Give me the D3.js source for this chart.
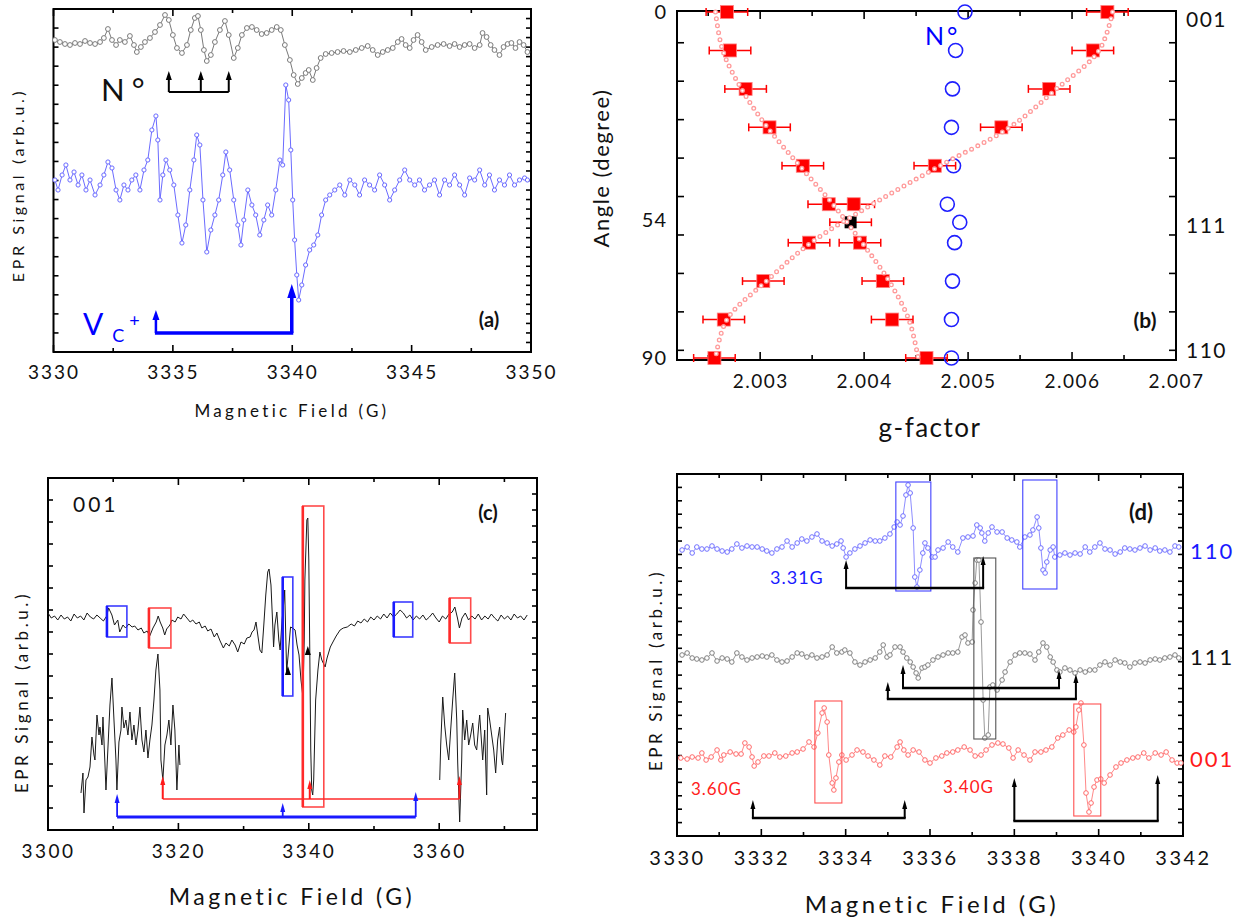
<!DOCTYPE html>
<html><head><meta charset="utf-8">
<script src="https://cdn.jsdelivr.net/npm/d3@7"></script>
<style>body{margin:0;background:#fff}</style>
</head><body>
<script>
// ================= DATA =================
// Panel (a): field (G), signal (arb.u.)
const aNitrogenSpec = [[3330.06,312],[3330.27,310],[3330.48,308],[3330.69,307],[3330.90,309],[3331.11,308],[3331.32,311],[3331.53,309],[3331.74,308],[3331.95,310],[3332.11,314],[3332.28,323],[3332.45,312],[3332.62,307],[3332.78,312],[3332.99,310],[3333.20,316],[3333.37,307],[3333.49,300],[3333.66,305],[3333.83,310],[3334.04,314],[3334.25,320],[3334.46,327],[3334.67,337],[3334.83,332],[3335.00,317],[3335.17,304],[3335.38,299],[3335.59,307],[3335.75,322],[3335.92,334],[3336.05,336],[3336.17,322],[3336.30,302],[3336.42,291],[3336.59,297],[3336.76,310],[3336.97,322],[3337.18,331],[3337.34,317],[3337.55,294],[3337.72,304],[3337.89,317],[3338.10,324],[3338.31,325],[3338.51,322],[3338.72,318],[3338.93,319],[3339.14,322],[3339.35,325],[3339.52,322],[3339.69,307],[3339.90,292],[3340.06,277],[3340.23,268],[3340.40,274],[3340.56,279],[3340.69,282],[3340.86,272],[3341.02,284],[3341.19,294],[3341.40,298],[3341.65,299],[3341.90,300],[3342.15,301],[3342.41,300],[3342.66,302],[3342.91,304],[3343.16,306],[3343.37,302],[3343.58,297],[3343.79,300],[3344.00,302],[3344.21,304],[3344.42,310],[3344.58,313],[3344.75,307],[3344.92,304],[3345.08,312],[3345.25,317],[3345.42,310],[3345.59,302],[3345.84,305],[3346.09,307],[3346.34,308],[3346.59,306],[3346.80,308],[3347.01,305],[3347.22,307],[3347.43,308],[3347.64,304],[3347.85,307],[3347.97,319],[3348.14,315],[3348.31,307],[3348.47,302],[3348.68,297],[3348.85,305],[3349.02,308],[3349.18,309],[3349.35,304],[3349.52,310],[3349.69,307],[3349.85,300]];
const aVcSpec = [[3330.06,172],[3330.19,162],[3330.36,177],[3330.52,187],[3330.69,172],[3330.86,180],[3331.03,167],[3331.19,177],[3331.36,162],[3331.53,172],[3331.74,157],[3331.95,167],[3332.11,177],[3332.28,190],[3332.45,184],[3332.62,162],[3332.78,152],[3332.95,167],[3333.12,162],[3333.28,172],[3333.45,177],[3333.62,162],[3333.79,182],[3333.95,192],[3334.12,222],[3334.29,236],[3334.37,212],[3334.46,152],[3334.58,177],[3334.71,192],[3334.87,182],[3335.04,167],[3335.21,137],[3335.38,109],[3335.54,127],[3335.71,162],[3335.88,192],[3336.00,217],[3336.13,207],[3336.26,152],[3336.42,100],[3336.59,122],[3336.76,137],[3336.92,152],[3337.09,177],[3337.22,200],[3337.38,182],[3337.55,152],[3337.72,127],[3337.85,107],[3337.97,132],[3338.14,162],[3338.31,147],[3338.47,137],[3338.64,117],[3338.81,132],[3338.97,147],[3339.14,137],[3339.31,162],[3339.48,192],[3339.60,187],[3339.73,267],[3339.85,252],[3339.94,202],[3340.02,152],[3340.10,112],[3340.19,77],[3340.27,52],[3340.40,67],[3340.56,87],[3340.73,102],[3340.90,107],[3341.07,117],[3341.23,137],[3341.40,152],[3341.57,157],[3341.78,162],[3341.99,167],[3342.20,157],[3342.41,172],[3342.62,167],[3342.82,157],[3343.03,172],[3343.24,167],[3343.45,162],[3343.66,177],[3343.87,167],[3344.08,152],[3344.29,162],[3344.50,172],[3344.71,182],[3344.92,172],[3345.13,167],[3345.33,172],[3345.54,162],[3345.75,167],[3345.96,172],[3346.17,157],[3346.38,172],[3346.59,167],[3346.80,177],[3347.01,167],[3347.22,157],[3347.43,174],[3347.64,172],[3347.85,182],[3348.06,167],[3348.26,177],[3348.47,162],[3348.68,172],[3348.89,167],[3349.10,177],[3349.31,167],[3349.52,172],[3349.73,174],[3349.85,172]];
const aXTicks = [3330, 3335, 3340, 3345, 3350];
const aXMinor = [3332.5, 3337.5, 3342.5, 3347.5];
const aNitrogenLines = [3334.83, 3336.17, 3337.34];
const aVcLines = [3334.29, 3339.98];

// Panel (b): angle (degree) vs g-factor
const bAngles = [0, 10, 20, 30, 40, 50, 60, 70, 80, 90];
const bBranch1 = [2.00268, 2.00271, 2.00286, 2.00309, 2.00341, 2.00366, 2.00347, 2.00303, 2.00265, 2.00256];
const bBranch2 = [2.00634, 2.00620, 2.00578, 2.00532, 2.00468, 2.00390, 2.00396, 2.00418, 2.00427, 2.00460];
const bError = 0.0002;
const bMagic = [54.7, 2.00387];
const bNAngles = [0, 10, 20, 30, 40, 50, 54.7, 60, 70, 80, 90];
const bNG = [2.00497, 2.00488, 2.00485, 2.00484, 2.00486, 2.00480, 2.00492, 2.00487, 2.00485, 2.00484, 2.00484];
const bFit1 = [[0,2.00257],[10,2.00264],[20,2.00282],[30,2.00307],[40,2.00338],[50,2.00370],[60,2.00398],[70,2.00424],[80,2.00443],[90,2.00452]];
const bFit2 = [[0,2.00639],[10,2.00626],[20,2.00585],[30,2.00540],[40,2.00473],[50,2.00408],[60,2.00349],[70,2.00306],[80,2.00268],[90,2.00257]];
const bXTicks = [2.003, 2.004, 2.005, 2.006, 2.007];
const bXMinor = [2.0025, 2.0035, 2.0045, 2.0055, 2.0065];
const bYTickLabels = [0, 54, 90];
const bYTicks = [8, 18, 28, 38, 48, 58, 68, 78, 88];
const bDirLabels = [["001", 0], ["111", 54], ["110", 90]];

// Panel (c): 001 spectrum and magnified wings
const cSpec001 = [[3300.0,217],[3300.5,212],[3301.0,214],[3301.5,210],[3302.0,215],[3302.5,211],[3303.0,213],[3303.5,209],[3304.0,216],[3304.5,212],[3305.0,214],[3305.5,210],[3306.0,217],[3306.5,213],[3307.0,211],[3307.5,215],[3308.0,212],[3308.5,209],[3309.0,214],[3309.3,222],[3309.8,215],[3310.2,205],[3310.7,210],[3311.0,198],[3311.5,205],[3311.9,202],[3312.4,206],[3312.9,203],[3313.3,204],[3313.8,200],[3314.3,202],[3314.7,197],[3315.2,199],[3315.6,194],[3316.1,202],[3316.6,208],[3316.9,214],[3317.2,208],[3317.6,202],[3317.9,195],[3318.2,201],[3318.7,205],[3319.0,210],[3319.5,208],[3319.9,213],[3320.4,211],[3320.8,216],[3321.3,212],[3321.8,208],[3322.2,210],[3322.7,206],[3323.2,208],[3323.6,202],[3324.1,204],[3324.5,199],[3325.0,201],[3325.5,193],[3325.9,197],[3326.4,189],[3326.9,182],[3327.3,187],[3327.8,184],[3328.2,190],[3328.7,185],[3329.1,178],[3329.6,188],[3330.1,186],[3330.5,192],[3331.0,193],[3331.3,198],[3331.6,200],[3331.9,208],[3332.2,194],[3332.5,180],[3332.8,177],[3333.1,205],[3333.4,235],[3333.7,258],[3333.9,261],[3334.2,245],[3334.5,200],[3334.6,183],[3334.8,205],[3335.1,218],[3335.4,190],[3335.6,180],[3335.9,210],[3336.2,230],[3336.3,240],[3336.6,158],[3336.9,180],[3337.2,203],[3337.5,202],[3337.9,200],[3338.2,185],[3338.5,175],[3338.8,150],[3339.1,133],[3339.3,190],[3339.4,250],[3339.6,290],[3339.7,310],[3339.85,312],[3340.0,270],[3340.15,180],[3340.3,80],[3340.45,40],[3340.6,35],[3340.75,50],[3340.9,90],[3341.05,130],[3341.4,160],[3341.7,178],[3342.0,170],[3342.5,163],[3342.8,172],[3343.3,183],[3343.7,188],[3344.2,194],[3344.8,200],[3345.3,202],[3345.9,203],[3346.5,206],[3347.0,204],[3347.5,209],[3348.0,207],[3348.5,211],[3349.0,208],[3349.5,213],[3350.0,210],[3350.5,214],[3351.0,211],[3351.5,216],[3352.0,212],[3352.5,217],[3353.0,213],[3353.5,216],[3354.0,220],[3354.5,217],[3355.0,212],[3355.5,215],[3356.0,210],[3356.5,214],[3357.0,211],[3357.5,215],[3358.0,210],[3358.5,213],[3359.0,217],[3359.5,212],[3360.0,208],[3360.5,214],[3361.0,211],[3361.5,216],[3362.0,218],[3362.4,223],[3362.8,212],[3363.1,202],[3363.5,212],[3364.0,217],[3364.5,210],[3365.0,214],[3365.5,211],[3366.0,216],[3366.5,210],[3367.0,214],[3367.5,211],[3368.0,216],[3368.5,212],[3369.0,209],[3369.5,215],[3370.0,211],[3370.5,214],[3371.0,210],[3371.5,216],[3372.0,212],[3372.5,214],[3373.0,210],[3373.5,215]];
const cWingLeft = [[3305.06,37],[3305.36,57],[3305.52,17],[3305.82,50],[3306.13,53],[3306.44,63],[3306.74,93],[3307.05,75],[3307.20,70],[3307.51,115],[3307.82,95],[3307.97,103],[3308.28,85],[3308.43,113],[3308.74,65],[3308.89,40],[3309.20,83],[3309.50,125],[3309.81,152],[3310.12,110],[3310.42,70],[3310.57,40],[3310.88,88],[3311.19,100],[3311.34,123],[3311.65,102],[3311.95,110],[3312.26,95],[3312.57,118],[3312.87,90],[3313.18,105],[3313.49,85],[3313.79,100],[3314.10,123],[3314.41,90],[3314.71,78],[3315.02,100],[3315.33,72],[3315.63,90],[3315.94,105],[3316.25,130],[3316.55,160],[3316.86,176],[3317.17,140],[3317.32,70],[3317.62,50],[3317.93,85],[3318.24,95],[3318.54,110],[3318.85,85],[3319.16,125],[3319.46,100],[3319.77,40],[3320.08,85],[3320.23,65]];
const cWingRight = [[3360.08,50],[3360.23,85],[3360.54,133],[3360.84,105],[3361.15,85],[3361.46,70],[3361.76,100],[3362.07,130],[3362.38,157],[3362.69,110],[3362.84,67],[3363.14,8],[3363.45,70],[3363.60,120],[3363.91,90],[3364.22,110],[3364.52,85],[3364.83,95],[3365.14,107],[3365.44,85],[3365.75,80],[3366.06,105],[3366.21,115],[3366.52,85],[3366.67,70],[3366.98,100],[3367.28,35],[3367.44,122],[3367.74,110],[3368.05,95],[3368.36,80],[3368.66,57],[3368.97,90],[3369.27,103],[3369.58,70],[3369.73,65],[3370.04,100],[3370.19,117]];
const cXTicks = [3300, 3320, 3340, 3360];
const cXMinor = [3310, 3330, 3350, 3370];
const cBoxes = [["blue",3309.04,3312.1,193,224],["red",3315.48,3318.85,182,222],["blue",3336.0,3337.55,134,253],["red",3339.08,3342.3,23,324],["blue",3353.03,3355.94,193,228],["red",3361.6,3364.83,187,232]];
const cRedLines = [[3317.6,54],[3340.15,50],[3363.1,54]];
const cRedBase = 31;
const cBlueLines = [[3310.6,36],[3336.0,27],[3356.4,38]];
const cBlueBase = 13;
const cMarks = [[3336.8,158],[3339.85,178]];

// Panel (d): three orientations
const dSpec110 = [[3330.12,286],[3330.24,289],[3330.36,283],[3330.47,289],[3330.59,287],[3330.71,287],[3330.83,290],[3330.95,287],[3331.07,285],[3331.19,284],[3331.30,287],[3331.42,292],[3331.54,288],[3331.66,290],[3331.78,289],[3331.90,289],[3332.02,287],[3332.13,285],[3332.25,283],[3332.37,287],[3332.49,289],[3332.61,295],[3332.73,289],[3332.85,293],[3332.96,297],[3333.08,295],[3333.20,299],[3333.32,302],[3333.44,295],[3333.56,293],[3333.68,290],[3333.79,292],[3333.89,295],[3333.94,288],[3334.01,279],[3334.10,283],[3334.22,287],[3334.34,290],[3334.46,293],[3334.58,296],[3334.70,295],[3334.81,295],[3334.93,298],[3335.05,302],[3335.15,309],[3335.22,314],[3335.29,311],[3335.36,320],[3335.43,341],[3335.48,351],[3335.53,343],[3335.60,308],[3335.64,259],[3335.69,249],[3335.76,266],[3335.83,283],[3335.88,293],[3335.95,288],[3336.05,279],[3336.12,279],[3336.19,286],[3336.31,288],[3336.43,294],[3336.54,289],[3336.66,284],[3336.78,298],[3336.90,299],[3337.02,300],[3337.11,311],[3337.19,308],[3337.23,303],[3337.30,295],[3337.38,303],[3337.47,309],[3337.59,304],[3337.71,304],[3337.83,298],[3337.94,296],[3338.06,294],[3338.13,289],[3338.25,299],[3338.37,301],[3338.44,306],[3338.54,319],[3338.58,308],[3338.63,288],[3338.68,266],[3338.73,263],[3338.77,274],[3338.85,286],[3338.92,289],[3338.96,279],[3339.08,281],[3339.20,283],[3339.32,281],[3339.44,283],[3339.56,282],[3339.68,289],[3339.79,284],[3339.91,289],[3340.03,293],[3340.15,287],[3340.27,286],[3340.39,282],[3340.51,284],[3340.62,288],[3340.74,287],[3340.86,286],[3340.98,288],[3341.10,290],[3341.22,286],[3341.34,288],[3341.45,285],[3341.57,286],[3341.69,284],[3341.81,290],[3341.90,289]];
const dSpec111 = [[3330.12,181],[3330.24,183],[3330.36,178],[3330.47,177],[3330.59,176],[3330.71,178],[3330.83,183],[3330.95,175],[3331.07,178],[3331.19,177],[3331.30,174],[3331.42,183],[3331.54,179],[3331.66,176],[3331.78,178],[3331.90,179],[3332.02,180],[3332.13,179],[3332.25,181],[3332.37,176],[3332.49,174],[3332.61,175],[3332.73,179],[3332.85,183],[3332.96,182],[3333.08,179],[3333.20,181],[3333.32,178],[3333.44,179],[3333.56,181],[3333.68,189],[3333.79,183],[3333.91,184],[3333.98,186],[3334.10,183],[3334.22,174],[3334.34,171],[3334.46,174],[3334.58,176],[3334.70,178],[3334.81,184],[3334.89,191],[3334.98,179],[3335.05,181],[3335.17,189],[3335.29,189],[3335.36,184],[3335.45,178],[3335.53,174],[3335.60,169],[3335.67,163],[3335.72,158],[3335.81,168],[3335.88,169],[3335.95,171],[3336.07,176],[3336.19,179],[3336.31,181],[3336.43,183],[3336.54,183],[3336.66,184],[3336.76,199],[3336.83,201],[3336.90,193],[3337.00,194],[3337.02,226],[3337.07,253],[3337.11,276],[3337.16,276],[3337.21,214],[3337.26,136],[3337.30,98],[3337.38,101],[3337.42,149],[3337.49,151],[3337.59,146],[3337.71,156],[3337.78,164],[3337.90,174],[3338.02,181],[3338.13,183],[3338.25,183],[3338.37,182],[3338.49,176],[3338.58,184],[3338.68,193],[3338.77,189],[3338.85,179],[3338.92,174],[3339.01,166],[3339.08,164],[3339.20,168],[3339.32,166],[3339.44,163],[3339.56,166],[3339.68,164],[3339.79,166],[3339.91,166],[3340.03,171],[3340.15,174],[3340.27,171],[3340.39,176],[3340.51,174],[3340.62,173],[3340.74,169],[3340.86,173],[3340.98,174],[3341.10,173],[3341.22,176],[3341.34,177],[3341.45,176],[3341.57,178],[3341.69,179],[3341.81,181],[3341.90,178]];
const dSpec001 = [[3330.09,78],[3330.24,77],[3330.36,79],[3330.50,78],[3330.59,83],[3330.69,76],[3330.81,79],[3330.95,86],[3331.04,76],[3331.11,81],[3331.26,84],[3331.40,82],[3331.52,82],[3331.61,93],[3331.71,89],[3331.78,79],[3331.83,70],[3331.92,74],[3332.06,80],[3332.18,80],[3332.32,83],[3332.44,79],[3332.58,80],[3332.73,83],[3332.85,84],[3332.99,87],[3333.13,94],[3333.25,89],[3333.34,103],[3333.44,123],[3333.49,128],[3333.56,114],[3333.60,81],[3333.68,53],[3333.72,46],[3333.77,58],[3333.84,74],[3333.91,81],[3334.01,76],[3334.15,81],[3334.27,86],[3334.41,84],[3334.53,80],[3334.67,76],[3334.81,71],[3334.93,80],[3335.07,79],[3335.22,89],[3335.29,94],[3335.38,86],[3335.48,81],[3335.60,86],[3335.74,84],[3335.88,76],[3336.00,73],[3336.14,78],[3336.28,80],[3336.40,83],[3336.54,84],[3336.66,86],[3336.81,89],[3336.95,86],[3337.07,80],[3337.21,81],[3337.33,86],[3337.47,91],[3337.61,93],[3337.73,92],[3337.87,88],[3337.97,78],[3338.09,86],[3338.23,81],[3338.37,76],[3338.49,84],[3338.63,84],[3338.75,86],[3338.89,89],[3339.03,98],[3339.15,101],[3339.30,106],[3339.41,104],[3339.46,109],[3339.53,126],[3339.58,133],[3339.65,91],[3339.70,43],[3339.77,24],[3339.82,33],[3339.89,49],[3339.96,56],[3340.05,57],[3340.13,53],[3340.27,61],[3340.41,69],[3340.53,73],[3340.67,76],[3340.81,78],[3340.93,79],[3341.07,83],[3341.19,78],[3341.34,83],[3341.48,81],[3341.60,84],[3341.74,76],[3341.86,73],[3341.95,73]];
const dXTicks = [3330, 3332, 3334, 3336, 3338, 3340, 3342];
const dXMinor = [3331, 3333, 3335, 3337, 3339, 3341];
const dBoxes = [["#4040ff",3335.19,3336.02,245,354],["#4040ff",3338.20,3339.01,247,356],["#555",3337.04,3337.56,97,278],["#ff5050",3333.27,3333.91,33,135],["#ff5050",3339.41,3340.05,20,132]];
// pairs: [left G, right G, base level, left tip, right tip]
const dPairs = [[3334.01,3337.26,248,276,280],[3335.36,3339.06,148,171,166],[3335.0,3339.46,137,154,162],[3331.8,3335.4,18,36,36],[3338.0,3341.4,15,58,61]];
const dSplitLabels = [["3.31G","#1a1aff",770,584,18],["3.60G","#ff2020",691,795,17],["3.40G","#ff2020",943,793,17]];
const dOrientLabels = [["110","#1a1aff",559],["111","#111",665],["001","#ff1a1a",767]];

// ================= DRAWING =================
const FONT = "Lato, 'Open Sans', 'DejaVu Sans', sans-serif";
const svg = d3.select("body").append("svg").attr("width", 1249).attr("height", 923)
  .style("font-family", FONT);

function frame(box, xs, xMajor, xMinor, majLen, minLen, ysL, leftTicks, ysR, rightTicks, yLen) {
  const g = svg.append("g").attr("stroke", "#000").attr("stroke-width", 1.6);
  const L = (x1, y1, x2, y2) => g.append("line").attr("x1", x1).attr("y1", y1).attr("x2", x2).attr("y2", y2);
  xMajor.forEach(v => { L(xs(v), box.y1, xs(v), box.y1 - majLen); L(xs(v), box.y0, xs(v), box.y0 + majLen); });
  xMinor.forEach(v => { L(xs(v), box.y1, xs(v), box.y1 - minLen); L(xs(v), box.y0, xs(v), box.y0 + minLen); });
  leftTicks.forEach(v => L(box.x0, ysL(v), box.x0 + yLen, ysL(v)));
  rightTicks.forEach(v => L(box.x1, ysR(v), box.x1 - yLen, ysR(v)));
  svg.append("rect").attr("x", box.x0).attr("y", box.y0).attr("width", box.x1 - box.x0)
    .attr("height", box.y1 - box.y0).attr("fill", "none").attr("stroke", "#000").attr("stroke-width", 2);
}
function xLabels(xs, yb, vals, fmt, pad, size, ls) {
  const ax = svg.append("g").attr("transform", `translate(0,${yb})`)
    .call(d3.axisBottom(xs).tickValues(vals).tickSize(0).tickPadding(pad).tickFormat(fmt));
  ax.select(".domain").remove();
  ax.selectAll("text").attr("font-family", FONT).attr("font-size", size).attr("letter-spacing", ls).attr("fill", "#111");
}
function text(str, x, y, o = {}) {
  const t = svg.append("text").attr("x", x).attr("y", y).text(str)
    .attr("font-size", o.size || 16).attr("fill", o.fill || "#111")
    .attr("text-anchor", o.anchor || "start").attr("letter-spacing", o.ls || 0)
    .attr("font-weight", o.bold ? "bold" : "normal");
  if (o.rot) t.attr("transform", `rotate(-90,${x},${y})`);
  return t;
}
function arrowUp(g, x, yBase, yTip, color, sw, hw, hh) {
  g.append("line").attr("x1", x).attr("x2", x).attr("y1", yBase).attr("y2", yTip + hh * 0.7)
    .attr("stroke", color).attr("stroke-width", sw);
  g.append("path").attr("d", `M${x - hw / 2},${yTip + hh}L${x},${yTip}L${x + hw / 2},${yTip + hh}Z`).attr("fill", color);
}
function spectrum(data, xs, ys, color, r, lw) {
  const g = svg.append("g");
  g.append("path").datum(data).attr("fill", "none").attr("stroke", color).attr("stroke-width", lw)
    .attr("d", d3.line().x(d => xs(d[0])).y(d => ys(d[1])));
  g.selectAll("circle").data(data).join("circle").attr("cx", d => xs(d[0])).attr("cy", d => ys(d[1]))
    .attr("r", r).attr("fill", "#fff").attr("stroke", color).attr("stroke-width", 1);
}

// ---------- Panel (a) ----------
{
  const box = {x0: 53.5, x1: 531, y0: 9, y1: 352};
  const x = d3.scaleLinear().domain([3330, 3350]).range([box.x0, box.x1]);
  const y = d3.scaleLinear().domain([0, 343]).range([box.y1, box.y0]);
  frame(box, x, aXTicks, aXMinor, 7, 4, y, d3.range(0, 344, 343 / 18), y, d3.range(0, 344, 343 / 36), 5);
  spectrum(aNitrogenSpec, x, y, "#7a7a7a", 2.4, 1);
  spectrum(aVcSpec, x, y, "#6b6bff", 2.1, 1);
  const g = svg.append("g");
  g.append("line").attr("x1", x(aNitrogenLines[0])).attr("x2", x(aNitrogenLines[2]))
    .attr("y1", y(260)).attr("y2", y(260)).attr("stroke", "#000").attr("stroke-width", 2);
  aNitrogenLines.forEach(v => arrowUp(g, x(v), y(260), y(281), "#000", 2, 6, 9));
  g.append("line").attr("x1", x(aVcLines[0]) - 1).attr("x2", x(aVcLines[1]) + 1.5)
    .attr("y1", y(19)).attr("y2", y(19)).attr("stroke", "#0000ff").attr("stroke-width", 3.5);
  arrowUp(g, x(aVcLines[0]), y(19), y(42), "#0000ff", 2.5, 7, 10);
  arrowUp(g, x(aVcLines[1]), y(19), y(68), "#0000ff", 3.5, 9, 14);
  xLabels(x, box.y1, aXTicks, d3.format("d"), 13.5, 19, 2);
  text("Magnetic Field (G)", 292, 417, {size: 17, anchor: "middle", ls: 3.3});
  text("EPR Signal (arb.u.)", 24, 185, {size: 16, anchor: "middle", ls: 3.6, rot: true});
  text("N°", 101, 101, {size: 31, ls: 7});
  const vt = svg.append("text").attr("x", 83).attr("y", 335).attr("fill", "#0000ff").attr("font-size", 30);
  vt.append("tspan").text("V");
  vt.append("tspan").attr("dx", 9).attr("dy", 7).attr("font-size", 18).text("C");
  vt.append("tspan").attr("dx", 5).attr("dy", -15).attr("font-size", 18).text("+");
  text("(a)", 489, 327, {size: 20, bold: true, anchor: "middle"});
}

// ---------- Panel (b) ----------
{
  const box = {x0: 677, x1: 1176, y0: 11, y1: 360};
  const x = d3.scaleLinear().domain([2.0022, 2.007]).range([box.x0, box.x1]);
  const y = d3.scaleLinear().domain([0, 90]).range([12, 358]);
  frame(box, x, bXTicks, bXMinor, 8, 5, y, bYTicks, y, bYTicks, 7);
  const g = svg.append("g");
  const pts = [];
  bAngles.forEach((a, i) => { pts.push([a, bBranch1[i]]); pts.push([a, bBranch2[i]]); });
  const eb = (a, gv, col) => {
    const yy = y(a), xa = x(gv - bError), xb = x(gv + bError);
    g.append("line").attr("x1", xa).attr("x2", xb).attr("y1", yy).attr("y2", yy).attr("stroke", col).attr("stroke-width", 1.5);
    [xa, xb].forEach(xx => g.append("line").attr("x1", xx).attr("x2", xx).attr("y1", yy - 4).attr("y2", yy + 4).attr("stroke", col).attr("stroke-width", 1.5));
  };
  pts.forEach(p => eb(p[0], p[1], "#ff0000"));
  eb(bMagic[0], bMagic[1], "#ff0000");
  g.selectAll("rect.sq").data(pts).join("rect").attr("class", "sq")
    .attr("x", d => x(d[1]) - 6.5).attr("y", d => y(d[0]) - 6.5).attr("width", 13).attr("height", 13)
    .attr("fill", "#ff0000").attr("stroke", "#ff8080").attr("stroke-width", 0.8);
  g.append("rect").attr("x", x(bMagic[1]) - 6).attr("y", y(bMagic[0]) - 6).attr("width", 12).attr("height", 12).attr("fill", "#000");
  g.selectAll("circle.n").data(bNAngles).join("circle").attr("class", "n")
    .attr("cx", (d, i) => x(bNG[i])).attr("cy", d => y(d)).attr("r", 7)
    .attr("fill", "none").attr("stroke", "#1f1fff").attr("stroke-width", 1.6);
  const curve = d3.line().x(d => x(d[1])).y(d => y(d[0])).curve(d3.curveCatmullRom);
  [bFit1, bFit2].forEach(f => {
    g.append("path").datum(f).attr("d", curve).attr("fill", "none").attr("stroke", "#ff9a9a")
      .attr("stroke-width", 5).attr("stroke-linecap", "round").attr("stroke-dasharray", "0 7");
    g.append("path").datum(f).attr("d", curve).attr("fill", "none").attr("stroke", "#fff")
      .attr("stroke-width", 2.4).attr("stroke-linecap", "round").attr("stroke-dasharray", "0 7");
  });
  xLabels(x, box.y1, bXTicks, d3.format(".3f"), 14.5, 19, 1.5);
  bYTickLabels.forEach(v => text(String(v), 667, y(v) + 7, {size: 20, anchor: "end", ls: 1}));
  bDirLabels.forEach(d => text(d[0], 1186, y(d[1]) + (d[1] === 0 ? 15 : d[1] === 90 ? 0 : 13), {size: 21, ls: 1.5}));
  text("g-factor", 930, 437, {size: 26, anchor: "middle", ls: 1.5});
  text("Angle (degree)", 609, 168, {size: 22, anchor: "middle", ls: 1.5, rot: true});
  text("N°", 925, 45, {size: 25, fill: "#0000ff", ls: 3});
  text("(b)", 1145, 328, {size: 21, bold: true, anchor: "middle"});
}

// ---------- Panel (c) ----------
{
  const box = {x0: 48, x1: 537, y0: 478, y1: 830};
  const x = d3.scaleLinear().domain([3300, 3375]).range([box.x0, box.x1]);
  const y = d3.scaleLinear().domain([0, 352]).range([box.y1, box.y0]);
  frame(box, x, cXTicks, cXMinor, 7, 4, y, d3.range(0, 353, 22), y, d3.range(0, 353, 16), 5);
  const line = d3.line().x(d => x(d[0])).y(d => y(d[1]));
  [cSpec001, cWingLeft, cWingRight].forEach(s =>
    svg.append("path").datum(s).attr("d", line).attr("fill", "none").attr("stroke", "#1a1a1a").attr("stroke-width", 1));
  const g = svg.append("g");
  cBoxes.forEach(b => {
    const col = b[0] === "red" ? "#ff2a2a" : "#1a1aff";
    g.append("rect").attr("x", x(b[1])).attr("y", y(b[4])).attr("width", x(b[2]) - x(b[1]))
      .attr("height", y(b[3]) - y(b[4])).attr("fill", "none").attr("stroke", col).attr("stroke-width", 1.6).attr("stroke-opacity", 0.85);
    g.append("line").attr("x1", x(b[1])).attr("x2", x(b[1])).attr("y1", y(b[4])).attr("y2", y(b[3]))
      .attr("stroke", col).attr("stroke-width", 2.6);
  });
  g.append("line").attr("x1", x(cRedLines[0][0])).attr("x2", x(cRedLines[2][0]))
    .attr("y1", y(cRedBase)).attr("y2", y(cRedBase)).attr("stroke", "#ff2a2a").attr("stroke-width", 1.5);
  cRedLines.forEach(a => arrowUp(g, x(a[0]), y(cRedBase), y(a[1]), "#ff1a1a", 2, 5, 9));
  g.append("line").attr("x1", x(cBlueLines[0][0])).attr("x2", x(cBlueLines[2][0]))
    .attr("y1", y(cBlueBase)).attr("y2", y(cBlueBase)).attr("stroke", "#1a1aff").attr("stroke-width", 3);
  cBlueLines.forEach(a => arrowUp(g, x(a[0]), y(cBlueBase), y(a[1]), "#1a1aff", 1.8, 5, 9));
  cMarks.forEach(m => g.append("path")
    .attr("d", `M${x(m[0]) - 3},${y(m[1]) + 3}L${x(m[0])},${y(m[1]) - 6}L${x(m[0]) + 3},${y(m[1]) + 3}Z`).attr("fill", "#000"));
  xLabels(x, box.y1, cXTicks, d3.format("d"), 14.5, 19, 2.5);
  text("Magnetic Field (G)", 292, 905, {size: 23, anchor: "middle", ls: 3.5});
  text("EPR Signal (arb.u.)", 28, 692, {size: 17, anchor: "middle", ls: 3.6, rot: true});
  text("001", 73, 512, {size: 21, ls: 3});
  text("(c)", 488, 520, {size: 20, bold: true, anchor: "middle"});
}

// ---------- Panel (d) ----------
{
  const box = {x0: 677, x1: 1183, y0: 474, y1: 836};
  const x = d3.scaleLinear().domain([3330, 3342]).range([box.x0, box.x1]);
  const y = d3.scaleLinear().domain([0, 362]).range([box.y1, box.y0]);
  frame(box, x, dXTicks, dXMinor, 7, 4, y, d3.range(0, 363, 362 / 27), y, d3.range(0, 363, 362 / 27), 5);
  spectrum(dSpec110, x, y, "#7070ff", 2.3, 0.8);
  spectrum(dSpec111, x, y, "#7f7f7f", 2.3, 0.8);
  spectrum(dSpec001, x, y, "#ff6a6a", 2.3, 0.8);
  const g = svg.append("g");
  dBoxes.forEach(b => g.append("rect").attr("x", x(b[1])).attr("y", y(b[4])).attr("width", x(b[2]) - x(b[1]))
    .attr("height", y(b[3]) - y(b[4])).attr("fill", "none").attr("stroke", b[0]).attr("stroke-width", 1.1));
  dPairs.forEach(p => {
    g.append("line").attr("x1", x(p[0]) - 1).attr("x2", x(p[1]) + 1).attr("y1", y(p[2])).attr("y2", y(p[2]))
      .attr("stroke", "#000").attr("stroke-width", 2.4);
    arrowUp(g, x(p[0]), y(p[2]), y(p[3]), "#000", 2, 5, 9);
    arrowUp(g, x(p[1]), y(p[2]), y(p[4]), "#000", 2, 5, 9);
  });
  dSplitLabels.forEach(l => text(l[0], l[2], l[3], {size: l[4], fill: l[1], ls: 1}));
  dOrientLabels.forEach(l => text(l[0], 1190, l[2], {size: 22, fill: l[1], ls: 2}));
  xLabels(x, box.y1, dXTicks, d3.format("d"), 14.8, 20, 2.5);
  text("Magnetic Field (G)", 932, 913, {size: 24, anchor: "middle", ls: 3.5});
  text("EPR Signal (arb.u.)", 662, 670, {size: 17, anchor: "middle", ls: 3.6, rot: true});
  text("(d)", 1141, 520, {size: 22, bold: true, anchor: "middle"});
}
</script>
</body></html>
